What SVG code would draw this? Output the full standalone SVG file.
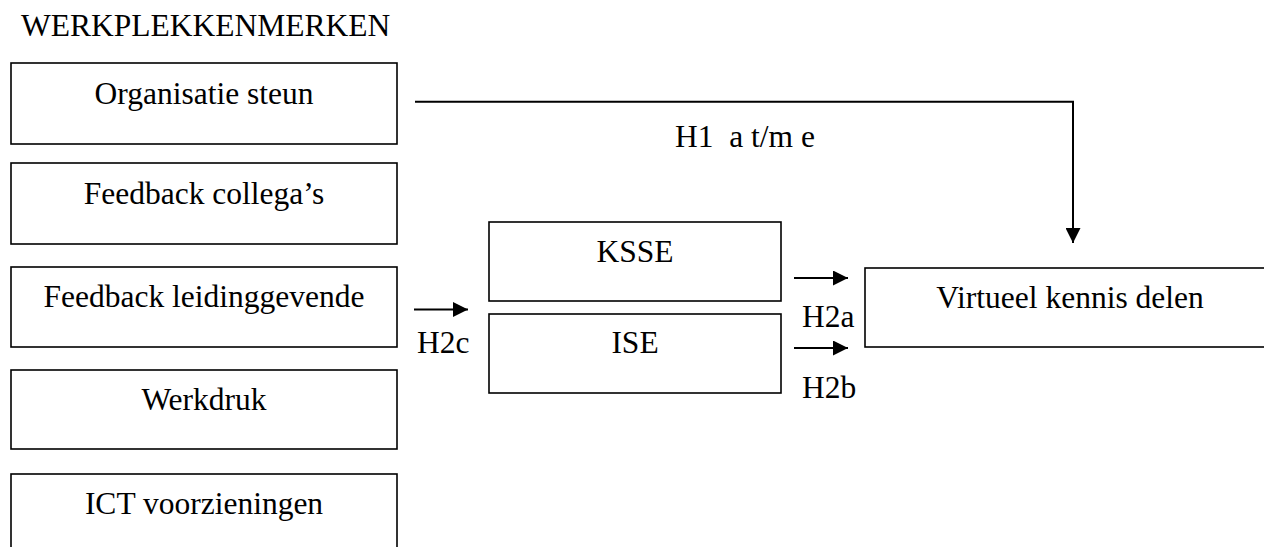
<svg xmlns="http://www.w3.org/2000/svg" width="1264" height="547" viewBox="0 0 1264 547">
  <style>
    text { font-family: "Liberation Serif", "DejaVu Serif", serif; font-size: 31.5px; fill: #000; }
    .c { text-anchor: middle; }
    .box { fill: #fff; stroke: #000; stroke-width: 1.6; }
    .conn { fill: none; stroke: #000; stroke-width: 2; }
  </style>
  <defs>
    <marker id="arrow" viewBox="0 0 10 10" refX="10" refY="5" markerWidth="15" markerHeight="15" markerUnits="userSpaceOnUse" orient="auto">
      <path d="M0,0 L10,5 L0,10 z" fill="#000"/>
    </marker>
  </defs>

  <rect width="1264" height="547" fill="#fff"/>

  <text id="title" x="21" y="36" font-family="Liberation Serif">WERKPLEKKENMERKEN</text>

  <g id="organisatie-steun">
    <rect class="box" x="11" y="63" width="386" height="81"/>
    <text class="c" x="204" y="104">Organisatie steun</text>
  </g>
  <g id="feedback-collegas">
    <rect class="box" x="11" y="163" width="386" height="81"/>
    <text class="c" x="204" y="204">Feedback collega’s</text>
  </g>
  <g id="feedback-leidinggevende">
    <rect class="box" x="11" y="267" width="386" height="80"/>
    <text class="c" x="204" y="307">Feedback leidinggevende</text>
  </g>
  <g id="werkdruk">
    <rect class="box" x="11" y="370" width="386" height="79"/>
    <text class="c" x="204" y="410">Werkdruk</text>
  </g>
  <g id="ict-voorzieningen">
    <rect class="box" x="11" y="474" width="386" height="90"/>
    <text class="c" x="204" y="514">ICT voorzieningen</text>
  </g>

  <g id="ksse">
    <rect class="box" x="489" y="222" width="292" height="79"/>
    <text class="c" x="635" y="262">KSSE</text>
  </g>
  <g id="ise">
    <rect class="box" x="489" y="314" width="292" height="79"/>
    <text class="c" x="635" y="353">ISE</text>
  </g>

  <g id="virtueel-kennis-delen">
    <rect class="box" x="865" y="268" width="420" height="79"/>
    <text class="c" x="1070" y="308">Virtueel kennis delen</text>
  </g>

  <g id="connectors">
    <polyline class="conn" points="415,101.7 1073,101.7 1073,243" marker-end="url(#arrow)"/>
    <line class="conn" x1="414" y1="309.5" x2="468" y2="309.5" marker-end="url(#arrow)"/>
    <line class="conn" x1="794" y1="278" x2="848" y2="278" marker-end="url(#arrow)"/>
    <line class="conn" x1="794" y1="348" x2="848" y2="348" marker-end="url(#arrow)"/>
    <text x="675" y="147" xml:space="preserve">H1  a t/m e</text>
    <text x="417" y="353">H2c</text>
    <text x="802" y="327">H2a</text>
    <text x="802" y="398">H2b</text>
  </g>
</svg>
